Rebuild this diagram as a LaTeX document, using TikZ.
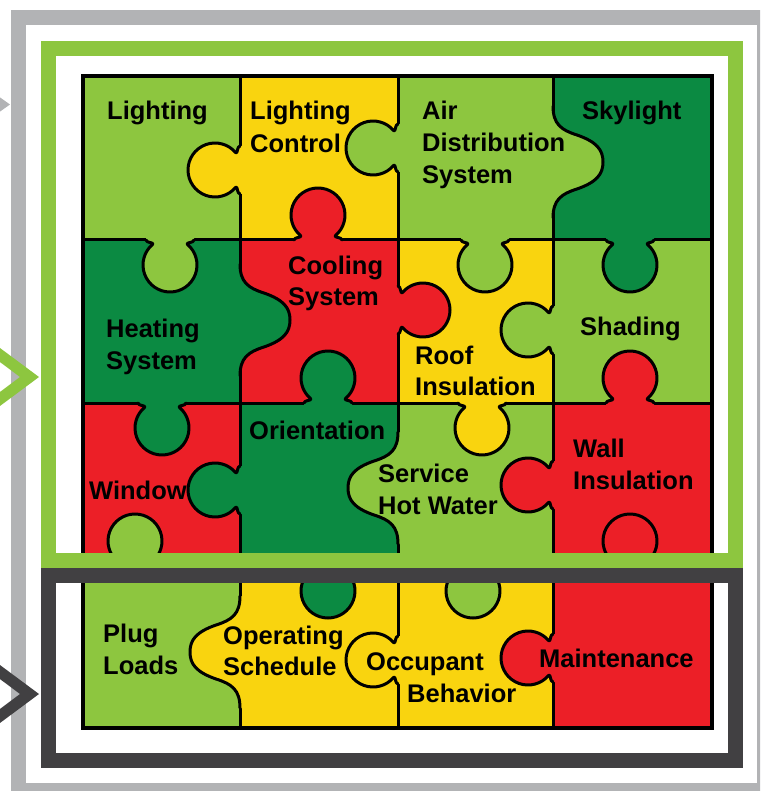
\documentclass[tikz,border=0pt]{standalone}
\usepackage{fontspec}
\setmainfont{Liberation Sans}
\definecolor{lg}{HTML}{8DC63F}
\definecolor{yl}{HTML}{F9D40F}
\definecolor{rd}{HTML}{EC1F27}
\definecolor{dg}{HTML}{0B8A42}
\definecolor{gr}{HTML}{B2B3B5}
\definecolor{dk}{HTML}{414042}
\tikzset{
  pz/.style={line width=3pt, draw=black, line join=round, line cap=round},
  txt/.style={anchor=base west, inner sep=0pt, font=\fontsize{25.5}{32}\selectfont\bfseries, text=black},
  band/.style={line width=15pt, line join=miter},
}
\newcommand{\pzknob}[4]{%
\begin{scope}[shift={(#2,#3)},rotate=#4]
\fill[#1] (-2.5,-24) -- (0,-24) .. controls (3,-24) and (2.4,-15.1) .. (4.32,-17.36)
 .. controls (11.62,-26.05) and (23.56,-29.25) .. (34.23,-25.37)
 .. controls (44.90,-21.49) and (52,-11.35) .. (52,0)
 .. controls (52,11.35) and (44.90,21.49) .. (34.23,25.37)
 .. controls (23.56,29.25) and (11.62,26.05) .. (4.32,17.36)
 .. controls (2.4,15.1) and (3,24) .. (0,24) -- (-2.5,24) -- cycle;
\draw[pz] (0,-24) .. controls (3,-24) and (2.4,-15.1) .. (4.32,-17.36)
 .. controls (11.62,-26.05) and (23.56,-29.25) .. (34.23,-25.37)
 .. controls (44.90,-21.49) and (52,-11.35) .. (52,0)
 .. controls (52,11.35) and (44.90,21.49) .. (34.23,25.37)
 .. controls (23.56,29.25) and (11.62,26.05) .. (4.32,17.36)
 .. controls (2.4,15.1) and (3,24) .. (0,24);
\end{scope}}
\newcommand{\pzbulge}[4]{%
\begin{scope}[shift={(#2,#3)},rotate=#4]
\fill[#1] (-2.5,-56) -- (0,-56) .. controls (0,-38) and (8,-32) .. (24,-27)
 .. controls (44,-20) and (50,-12) .. (50,0)
 .. controls (50,12) and (44,20) .. (24,27)
 .. controls (8,32) and (0,38) .. (0,56) -- (-2.5,56) -- cycle;
\draw[pz] (0,-56) .. controls (0,-38) and (8,-32) .. (24,-27)
 .. controls (44,-20) and (50,-12) .. (50,0)
 .. controls (50,12) and (44,20) .. (24,27)
 .. controls (8,32) and (0,38) .. (0,56);
\end{scope}}
\begin{document}
\begin{tikzpicture}[x=1pt,y=-1pt]
\useasboundingbox (0,0) rectangle (760,791);
\clip (0,0) rectangle (760,791);
% cells
\fill[lg] (83,76) rectangle (240,240);
\fill[yl] (240,76) rectangle (398,240);
\fill[lg] (398,76) rectangle (553,240);
\fill[dg] (553,76) rectangle (712,240);
\fill[dg] (83,240) rectangle (240,403);
\fill[rd] (240,240) rectangle (398,403);
\fill[yl] (398,240) rectangle (553,403);
\fill[lg] (553,240) rectangle (712,403);
\fill[rd] (83,403) rectangle (240,566);
\fill[dg] (240,403) rectangle (398,566);
\fill[lg] (398,403) rectangle (553,566);
\fill[rd] (553,403) rectangle (712,566);
\fill[lg] (83,566) rectangle (240,728);
\fill[yl] (240,566) rectangle (398,728);
\fill[yl] (398,566) rectangle (553,728);
\fill[rd] (553,566) rectangle (712,728);
% grid lines
\draw[pz] (240,76) -- (240,728) (398,76) -- (398,728) (553,76) -- (553,728);
\draw[pz] (83,240) -- (712,240) (83,403) -- (712,403) (83,566) -- (712,566);
% knobs
\pzknob{yl}{240}{170}{180}
\pzknob{lg}{398}{148}{180}
\pzknob{lg}{170}{240}{-90}
\pzknob{rd}{318}{240}{90}
\pzknob{lg}{485}{240}{-90}
\pzknob{dg}{630}{240}{-90}
\pzknob{rd}{398}{310}{0}
\pzknob{lg}{553}{330}{180}
\pzknob{dg}{162}{403}{-90}
\pzknob{dg}{328}{403}{90}
\pzknob{yl}{482}{403}{-90}
\pzknob{rd}{630}{403}{90}
\pzknob{dg}{240}{490}{180}
\pzknob{rd}{553}{485}{180}
\pzknob{lg}{135}{566}{90}
\pzknob{dg}{328}{566}{-90}
\pzknob{lg}{473}{566}{-90}
\pzknob{rd}{630}{566}{90}
\pzknob{yl}{398}{660}{180}
\pzknob{rd}{553}{658}{180}
% wide bulges
\pzbulge{lg}{553}{162}{0}
\pzbulge{dg}{240}{320}{0}
\pzbulge{lg}{398}{488}{180}
\pzbulge{yl}{240}{652}{180}
% outer border
\draw[line width=3.5pt] (83,76) rectangle (712,728);
% texts
\node[txt] (t1) at (107,120) {Lighting};
\node[txt] (t2a) at (250,120) {Lighting};
\node[txt] (t2b) at (250,153) {Control};
\node[txt] (t3a) at (422,120) {Air};
\node[txt] (t3b) at (422,152) {Distribution};
\node[txt] (t3c) at (422,184) {System};
\node[txt] (t4) at (582,120) {Skylight};
\node[txt] (t5a) at (106,337) {Heating};
\node[txt] (t5b) at (106,369) {System};
\node[txt] (t6a) at (288,274) {Cooling};
\node[txt] (t6b) at (288,305) {System};
\node[txt] (t7a) at (415,364) {Roof};
\node[txt] (t7b) at (415,395) {Insulation};
\node[txt] (t8) at (580,335) {Shading};
\node[txt] (t9) at (89,499) {Window};
\node[txt] (t10) at (249,439) {Orientation};
\node[txt] (t11a) at (378,482) {Service};
\node[txt] (t11b) at (378,514) {Hot Water};
\node[txt] (t12a) at (573,457) {Wall};
\node[txt] (t12b) at (573,489) {Insulation};
\node[txt] (t13a) at (103,642) {Plug};
\node[txt] (t13b) at (103,674) {Loads};
\node[txt] (t14a) at (223,644) {Operating};
\node[txt] (t14b) at (223,675) {Schedule};
\node[txt] (t15a) at (366,670) {Occupant};
\node[txt] (t15b) at (407,702) {Behavior};
\node[txt] (t16) at (539,667) {Maintenance};
% frames
\draw[gr,band] (18.5,17.5) rectangle (764.5,790.5);
\draw[lg,band] (48.5,48.5) rectangle (735.5,560.5);
\draw[dk,band] (48.5,575.5) rectangle (735.5,760.5);
% chevrons
\fill[gr] (-2,96) -- (10,104.5) -- (-2,113) -- cycle;
\fill[lg] (-10,340.6) -- (39,377) -- (-10,413.4) -- (-10,399.4) -- (20,377) -- (-10,354.6) -- cycle;
\fill[dk] (-10,657.6) -- (39,694) -- (-10,730.4) -- (-10,716.4) -- (20,694) -- (-10,671.6) -- cycle;
\end{tikzpicture}
\end{document}
